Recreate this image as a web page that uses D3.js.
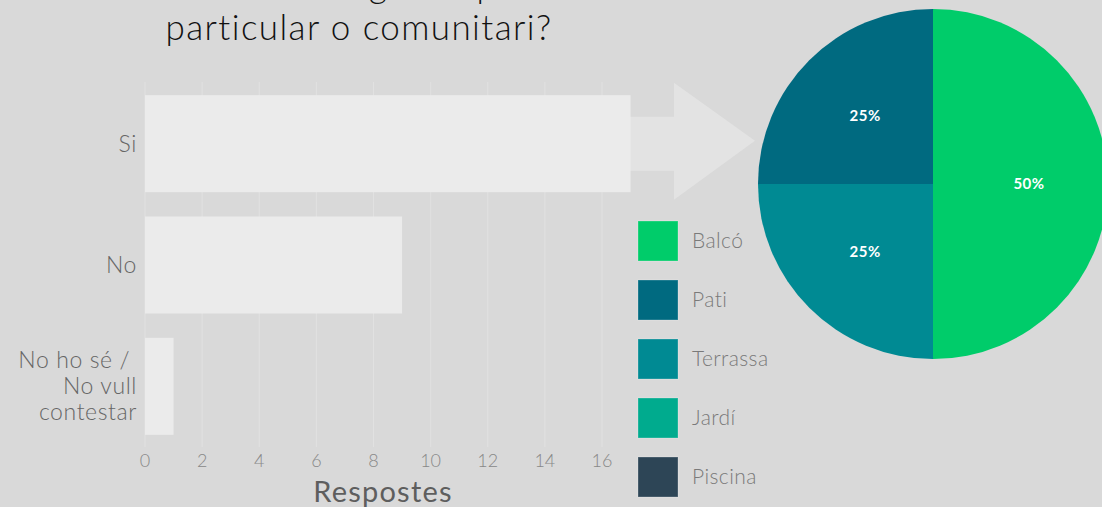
<!DOCTYPE html>
<html lang="ca">
<head>
  <meta charset="utf-8">
  <title>Espai exterior</title>
  <script src="https://d3js.org/d3.v7.min.js"></script>
  <style>
    body {
      margin: 0;
      background: #d9d9d9;
      font-family: Lato, "Noto Sans", sans-serif;
    }
    svg {
      display: block;
    }
  </style>
</head>
<body>
  <svg width="1102" height="507"></svg>

  <script>
  // bar chart data
  const answers = ["Si", "No", "No ho sé / No vull contestar"];
  const answerLines = [["Si"], ["No"], ["No ho sé / ", "No vull", "contestar"]];
  const counts = [17, 9, 1];
  const xTicks = [0, 2, 4, 6, 8, 10, 12, 14, 16];

  // pie chart data
  const spaces = ["Balcó", "Pati", "Terrassa", "Jardí", "Piscina"];
  const shares = [50, 25, 25, 0, 0];
  const spaceColors = ["#00cc6a", "#006a80", "#008a93", "#00ab8e", "#2d4556"];

  const titleLines = ["A casa teva tens algun espai exterior", "particular o comunitari?"];

  const svg = d3.select("svg");

  // title (first line is cut by the top edge, as in the original)
  svg.append("g")
    .selectAll("text")
    .data(titleLines)
    .enter().append("text")
    .attr("x", (d, i) => i === 0 ? 364 : 359)
    .attr("y", (d, i) => -2 + i * 42)
    .attr("text-anchor", "middle")
    .attr("fill", "#111")
    .style("font-size", "35px")
    .style("font-weight", 300)
    .style("letter-spacing", "1.4px")
    .text(d => d);

  // ---- bar chart ----
  const x = d3.scaleLinear().domain([0, 16]).range([145, 602]);
  const y = d3.scaleBand()
    .domain(answers)
    .range([83, 447])
    .paddingInner(0.2)
    .paddingOuter(0.1);

  // vertical grid
  svg.append("g")
    .selectAll("line")
    .data(xTicks)
    .enter().append("line")
    .attr("x1", d => x(d))
    .attr("x2", d => x(d))
    .attr("y1", 82)
    .attr("y2", 447)
    .attr("stroke", "#e1e1e1")
    .attr("stroke-width", 1);

  // arrow from the "Si" bar to the pie
  const si = y("Si");
  const mid = si + y.bandwidth() / 2;
  svg.append("path")
    .attr("d", `M ${x(16)} ${mid - 27} L 674 ${mid - 27} L 674 ${mid - 61}
                L 755 ${mid - 3} L 674 ${mid + 56} L 674 ${mid + 27} L ${x(16)} ${mid + 27} Z`)
    .attr("fill", "#e3e3e3");

  svg.append("g")
    .selectAll("rect")
    .data(counts)
    .enter().append("rect")
    .attr("x", x(0))
    .attr("y", (d, i) => y(answers[i]))
    .attr("width", d => x(d) - x(0))
    .attr("height", y.bandwidth())
    .attr("fill", "#ebebeb");

  // x axis tick labels
  svg.append("g")
    .selectAll("text")
    .data(xTicks)
    .enter().append("text")
    .attr("x", d => x(d))
    .attr("y", 467)
    .attr("text-anchor", "middle")
    .attr("fill", "#888")
    .style("font-size", "18px")
    .style("font-weight", 300)
    .text(d => d);

  svg.append("text")
    .attr("x", 383)
    .attr("y", 502)
    .attr("text-anchor", "middle")
    .attr("fill", "#5e5e5e")
    .style("font-size", "29px")
    .style("letter-spacing", "1.2px")
    .text("Respostes");

  // y labels (wrapped)
  const yLab = svg.append("g")
    .selectAll("text")
    .data(answers)
    .enter().append("text")
    .attr("text-anchor", "end")
    .attr("fill", "#666")
    .style("font-size", "23px")
    .style("font-weight", 300)
    .style("letter-spacing", "0.6px")
    .style("white-space", "pre");

  yLab.each(function(d, i) {
    const lines = answerLines[i];
    const c = y(d) + y.bandwidth() / 2;
    const top = c - (lines.length - 1) * 13;
    d3.select(this).selectAll("tspan")
      .data(lines)
      .enter().append("tspan")
      .attr("x", 137)
      .attr("y", (l, j) => top + j * 26 + 8)
      .text(l => l);
  });

  // ---- pie chart ----
  const cx = 933, cy = 184, r = 175;
  const pie = d3.pie().sort(null).value(d => d)
    .startAngle(Math.PI).endAngle(-Math.PI);
  const arcs = pie(shares);
  const arc = d3.arc().innerRadius(0).outerRadius(r);
  const labelArc = d3.arc().innerRadius(96).outerRadius(96);

  const pieG = svg.append("g").attr("transform", `translate(${cx},${cy})`);
  pieG.selectAll("path")
    .data(arcs)
    .enter().append("path")
    .attr("d", arc)
    .attr("fill", (d, i) => spaceColors[i]);

  pieG.selectAll("text")
    .data(arcs.filter(d => d.value > 0))
    .enter().append("text")
    .attr("transform", d => `translate(${labelArc.centroid(d)})`)
    .attr("text-anchor", "middle")
    .attr("dy", "0.35em")
    .attr("fill", "#fff")
    .style("font-size", "15px")
    .style("font-weight", 700)
    .style("letter-spacing", "0.5px")
    .text(d => d.value + "%");

  // legend
  const legend = svg.append("g")
    .selectAll("g")
    .data(spaces)
    .enter().append("g")
    .attr("transform", (d, i) => `translate(638,${221 + i * 59})`);

  legend.append("rect")
    .attr("width", 40)
    .attr("height", 40)
    .attr("fill", (d, i) => spaceColors[i])
    .attr("stroke", "rgba(255,255,255,0.25)")
    .attr("stroke-width", 1);

  legend.append("text")
    .attr("x", 54)
    .attr("y", 27)
    .attr("fill", "#7a7a7a")
    .style("font-size", "21px")
    .style("font-weight", 300)
    .style("letter-spacing", "0.4px")
    .text(d => d);
  </script>
</body>
</html>
